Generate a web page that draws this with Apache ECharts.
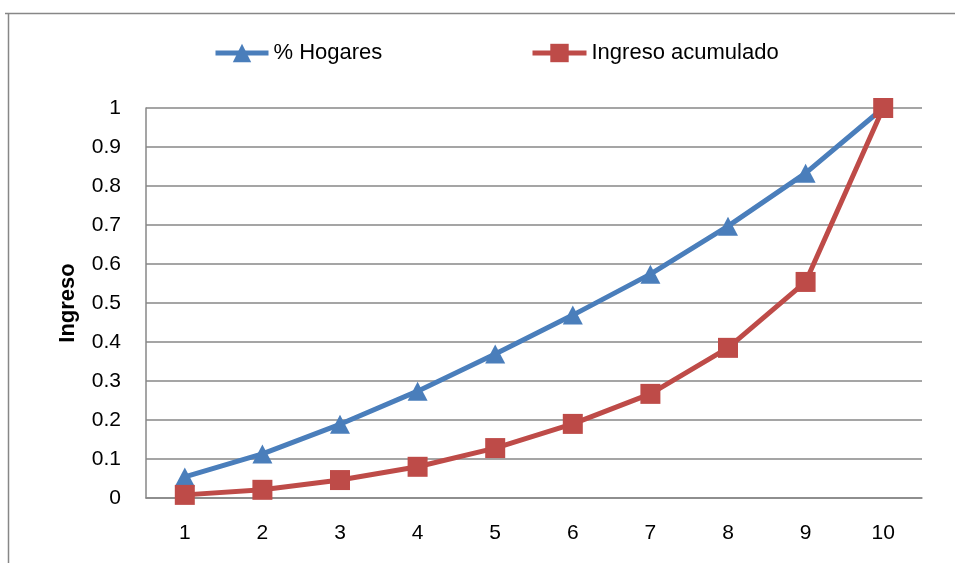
<!DOCTYPE html>
<html>
<head>
<meta charset="utf-8">
<script src="https://cdn.jsdelivr.net/npm/echarts@6/dist/echarts.min.js"></script>
<style>
  html, body { margin: 0; padding: 0; background: #ffffff; }
  #chart { width: 955px; height: 563px; }
</style>
</head>
<body>
<div id="chart"></div>
<script>
// Deciles 1..10
const categories = ['1', '2', '3', '4', '5', '6', '7', '8', '9', '10'];
// Cumulative share of households
const hogares = [0.054, 0.113, 0.189, 0.274, 0.369, 0.469, 0.574, 0.697, 0.833, 1.0];
// Cumulative share of income
const ingresoAcumulado = [0.008, 0.021, 0.046, 0.080, 0.128, 0.190, 0.267, 0.385, 0.554, 1.0];

const FONT = '"Liberation Sans", Arial, sans-serif';
const GRID_GRAY = '#878787';
const BLUE = '#4A7EBB';
const RED = '#BE4B48';

const chart = echarts.init(document.getElementById('chart'), null, { renderer: 'canvas' });

const legendCommon = {
  top: 37,
  itemHeight: 23,
  lineStyle: { width: 5 },
  textStyle: { fontFamily: FONT, fontSize: 22, color: '#000000' }
};

chart.setOption({
  animation: false,
  backgroundColor: '#ffffff',
  graphic: [
    { type: 'line', shape: { x1: 5, y1: 13.5, x2: 960, y2: 13.5 }, style: { stroke: GRID_GRAY, lineWidth: 1.5 } },
    { type: 'line', shape: { x1: 8.5, y1: 13, x2: 8.5, y2: 570 }, style: { stroke: GRID_GRAY, lineWidth: 1.5 } }
  ],
  legend: [
    Object.assign({ left: 208, itemWidth: 53, data: ['% Hogares'] }, legendCommon),
    Object.assign({ left: 525, itemWidth: 54, data: ['Ingreso acumulado'] }, legendCommon)
  ],
  grid: { left: 146, right: 33, top: 108, bottom: 65, containLabel: false },
  xAxis: {
    type: 'category',
    data: categories,
    boundaryGap: true,
    axisLine: { show: true, lineStyle: { color: GRID_GRAY, width: 1.5 } },
    axisTick: { show: false },
    axisLabel: { margin: 25, fontFamily: FONT, fontSize: 21, color: '#000000' },
    splitLine: { show: false }
  },
  yAxis: {
    type: 'value',
    min: 0,
    max: 1,
    interval: 0.1,
    name: 'Ingreso',
    nameLocation: 'middle',
    nameGap: 67,
    nameRotate: 90,
    nameTextStyle: { fontFamily: FONT, fontSize: 22, fontWeight: 'bold', color: '#000000' },
    axisLine: { show: true, lineStyle: { color: GRID_GRAY, width: 1.5 } },
    axisTick: { show: false },
    axisLabel: { margin: 25, fontFamily: FONT, fontSize: 21, color: '#000000' },
    splitLine: { show: true, lineStyle: { color: GRID_GRAY, width: 1.5 } }
  },
  series: [
    {
      name: '% Hogares',
      type: 'line',
      data: hogares,
      symbol: 'triangle',
      symbolSize: [20, 19],
      showAllSymbol: true,
      lineStyle: { color: BLUE, width: 5 },
      itemStyle: { color: BLUE, borderWidth: 0 },
      z: 2
    },
    {
      name: 'Ingreso acumulado',
      type: 'line',
      data: ingresoAcumulado,
      symbol: 'rect',
      symbolSize: 20,
      showAllSymbol: true,
      lineStyle: { color: RED, width: 5 },
      itemStyle: { color: RED, borderWidth: 0 },
      z: 3
    }
  ]
});
</script>
</body>
</html>
